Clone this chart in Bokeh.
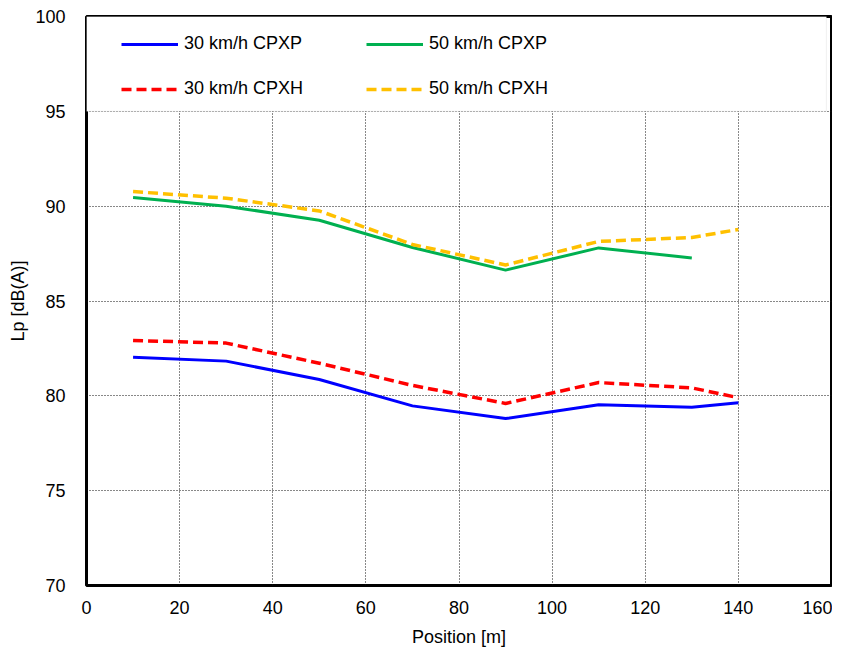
from bokeh.plotting import figure
from bokeh.models import Range1d, FixedTicker, Legend, LegendItem, BoxAnnotation
from bokeh.embed import file_html
from bokeh.resources import INLINE

positions = [10, 30, 50, 70, 90, 110, 130, 140]
positions_50cpxp = [10, 30, 50, 70, 90, 110, 130]
cpxp_30 = [82.03, 81.83, 80.86, 79.47, 78.8, 79.53, 79.4, 79.63]
cpxh_30 = [82.92, 82.78, 81.72, 80.55, 79.6, 80.7, 80.42, 79.9]
cpxp_50 = [90.46, 90.0, 89.26, 87.82, 86.63, 87.8, 87.27]
cpxh_50 = [90.77, 90.42, 89.75, 87.98, 86.9, 88.14, 88.35, 88.77]
x_ticks = [0, 20, 40, 60, 80, 100, 120, 140, 160]
y_ticks = [70, 75, 80, 85, 90, 95, 100]

FONT = "Liberation Sans"

p = figure(width=832, height=650, output_backend="svg", toolbar_location=None,
           x_range=Range1d(0, 160), y_range=Range1d(70, 100),
           min_border_left=86, min_border_right=1, min_border_top=16, min_border_bottom=65)

p.outline_line_color = "black"
p.outline_line_width = 3
p.background_fill_color = "white"
p.border_fill_color = "white"

for ax in (p.xaxis[0], p.yaxis[0]):
    ax.axis_line_color = None
    ax.major_tick_line_color = None
    ax.minor_tick_line_color = None
    ax.major_tick_out = 0
    ax.major_tick_in = 0
    ax.minor_tick_out = 0
    ax.minor_tick_in = 0
    ax.major_label_text_font = FONT
    ax.major_label_text_font_size = "18px"
    ax.major_label_text_color = "black"
    ax.axis_label_text_font = FONT
    ax.axis_label_text_font_size = "18px"
    ax.axis_label_text_font_style = "normal"
    ax.axis_label_text_color = "black"

p.xaxis.ticker = FixedTicker(ticks=x_ticks)
p.yaxis.ticker = FixedTicker(ticks=y_ticks)
p.xaxis.axis_label = "Position [m]"
p.yaxis.axis_label = "Lp [dB(A)]"
p.xaxis.major_label_standoff = 15
p.xaxis.axis_label_standoff = 10
p.yaxis.major_label_standoff = 21
p.yaxis.axis_label_standoff = 4

for g in (p.xgrid[0], p.ygrid[0]):
    g.grid_line_color = "#111111"
    g.grid_line_width = 1
    g.grid_line_dash = "1 2"

# legend background box
p.add_layout(BoxAnnotation(left=0, right=158.9, bottom=95, top=100,
                           fill_color="white", fill_alpha=1.0,
                           line_color="#cccccc", line_width=1))

r1 = p.line(positions, cpxp_30, line_color="#0000FF", line_width=3)
r2 = p.line(positions, cpxh_30, line_color="#FF0000", line_width=3.5, line_dash="10 5")
r3 = p.line(positions_50cpxp, cpxp_50, line_color="#00B050", line_width=3)
r4 = p.line(positions, cpxh_50, line_color="#FFC000", line_width=3.5, line_dash="10 5")

legend = Legend(items=[
    LegendItem(label="30 km/h CPXP", renderers=[r1]),
    LegendItem(label="30 km/h CPXH", renderers=[r2]),
    LegendItem(label="50 km/h CPXP", renderers=[r3]),
    LegendItem(label="50 km/h CPXH", renderers=[r4]),
], ncols=2, location=(35, 486))
legend.padding = 16
legend.margin = 0
legend.spacing = 24
legend.glyph_width = 57
legend.glyph_height = 20
legend.label_height = 20
legend.label_width = 158
legend.label_standoff = 6
legend.label_text_font = FONT
legend.label_text_font_size = "18px"
legend.label_text_color = "black"
legend.background_fill_alpha = 0
legend.border_line_color = None
p.add_layout(legend, "center")

open("out.html", "w").write(file_html(p, INLINE))
